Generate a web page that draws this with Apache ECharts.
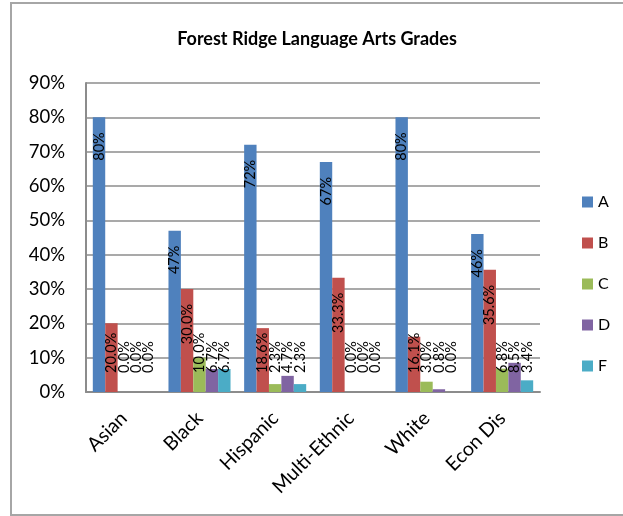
<!DOCTYPE html>
<html>
<head>
<meta charset="utf-8">
<script src="https://cdn.jsdelivr.net/npm/echarts@6/dist/echarts.min.js"></script>
<style>
  html, body { margin: 0; padding: 0; background: #fff; }
  #chart { width: 623px; height: 516px; }
</style>
</head>
<body>
<div id="chart"></div>
<script>
// Student groups along the x axis
const groups = ['Asian', 'Black', 'Hispanic', 'Multi-Ethnic', 'White', 'Econ Dis'];

// Share of students (percent) earning each grade
const gradeA = [80, 47, 72, 67, 80, 46];
const gradeB = [20.0, 30.0, 18.6, 33.3, 16.1, 35.6];
const gradeC = [0.0, 10.0, 2.3, 0.0, 3.0, 6.8];
const gradeD = [0.0, 6.7, 4.7, 0.0, 0.8, 8.5];
const gradeF = [0.0, 6.7, 2.3, 0.0, 0.0, 3.4];

const gradeNames = ['A', 'B', 'C', 'D', 'F'];
const gradeValues = [gradeA, gradeB, gradeC, gradeD, gradeF];
const gradeDecimals = [0, 1, 1, 1, 1];
const gradeColors = ['#4F81BD', '#C0504D', '#9BBB59', '#8064A2', '#4BACC6'];

// Value axis range (percent)
const yMin = 0, yMax = 90, yStep = 10;

const FONT = 'Lato, "Open Sans", sans-serif';
const GRID_GRAY = '#8c8c8c';

const chart = echarts.init(document.getElementById('chart'), null, { renderer: 'canvas' });

const series = gradeNames.map((name, i) => ({
  name: name,
  type: 'bar',
  data: gradeValues[i],
  barGap: '0%',
  barCategoryGap: '18%',
  itemStyle: { color: gradeColors[i] },
  label: {
    show: true,
    rotate: 90,
    color: '#000',
    fontFamily: FONT,
    fontSize: 14.5,
    align: 'right',
    verticalAlign: 'middle',
    formatter: p => p.value.toFixed(gradeDecimals[i]) + '%'
  },
  // Labels sit just inside the bar end; short bars push them up off the axis
  labelLayout: function (params) {
    const r = params.rect;
    const top = Math.min(r.y, r.y + r.height);
    const base = Math.max(r.y, r.y + r.height);
    const len = params.labelRect.height;
    let y = top + 15;
    if (y + len > base - 19) y = base - 19 - len;
    return { x: r.x + r.width / 2, y: y };
  }
}));

chart.setOption({
  animation: false,
  backgroundColor: '#fff',
  textStyle: { fontFamily: FONT },
  title: {
    text: 'Forest Ridge Language Arts Grades',
    left: 312,
    textAlign: 'center',
    top: 25,
    textStyle: { fontFamily: FONT, fontWeight: 'bold', fontSize: 18, color: '#000' }
  },
  graphic: [{
    type: 'rect',
    shape: { x: 11, y: 3, width: 700, height: 512 },
    style: { fill: 'none', stroke: '#a6a6a6', lineWidth: 2 },
    silent: true,
    z: -1
  }],
  legend: {
    orient: 'vertical',
    left: 577,
    top: 189,
    itemWidth: 11,
    itemHeight: 11,
    itemGap: 25,
    itemTextGap: 6,
    icon: 'rect',
    textStyle: { fontFamily: FONT, fontSize: 16, color: '#000', lineHeight: 16 },
    data: gradeNames
  },
  grid: { left: 86, right: 83, top: 83, bottom: 124, containLabel: false },
  xAxis: {
    type: 'category',
    data: groups,
    axisLine: { show: true, lineStyle: { color: GRID_GRAY, width: 2 } },
    axisTick: { show: false },
    axisLabel: { rotate: 45, margin: 23, fontFamily: FONT, fontSize: 19.5, color: '#000', interval: 0 }
  },
  yAxis: {
    type: 'value',
    min: yMin,
    max: yMax,
    interval: yStep,
    axisLine: { show: true, lineStyle: { color: GRID_GRAY, width: 2 } },
    axisTick: { show: false },
    splitLine: { show: true, lineStyle: { color: GRID_GRAY, width: 1.5 } },
    axisLabel: { margin: 21, fontFamily: FONT, fontSize: 18.5, color: '#000', formatter: '{value}%' }
  },
  series: series
});
</script>
</body>
</html>
